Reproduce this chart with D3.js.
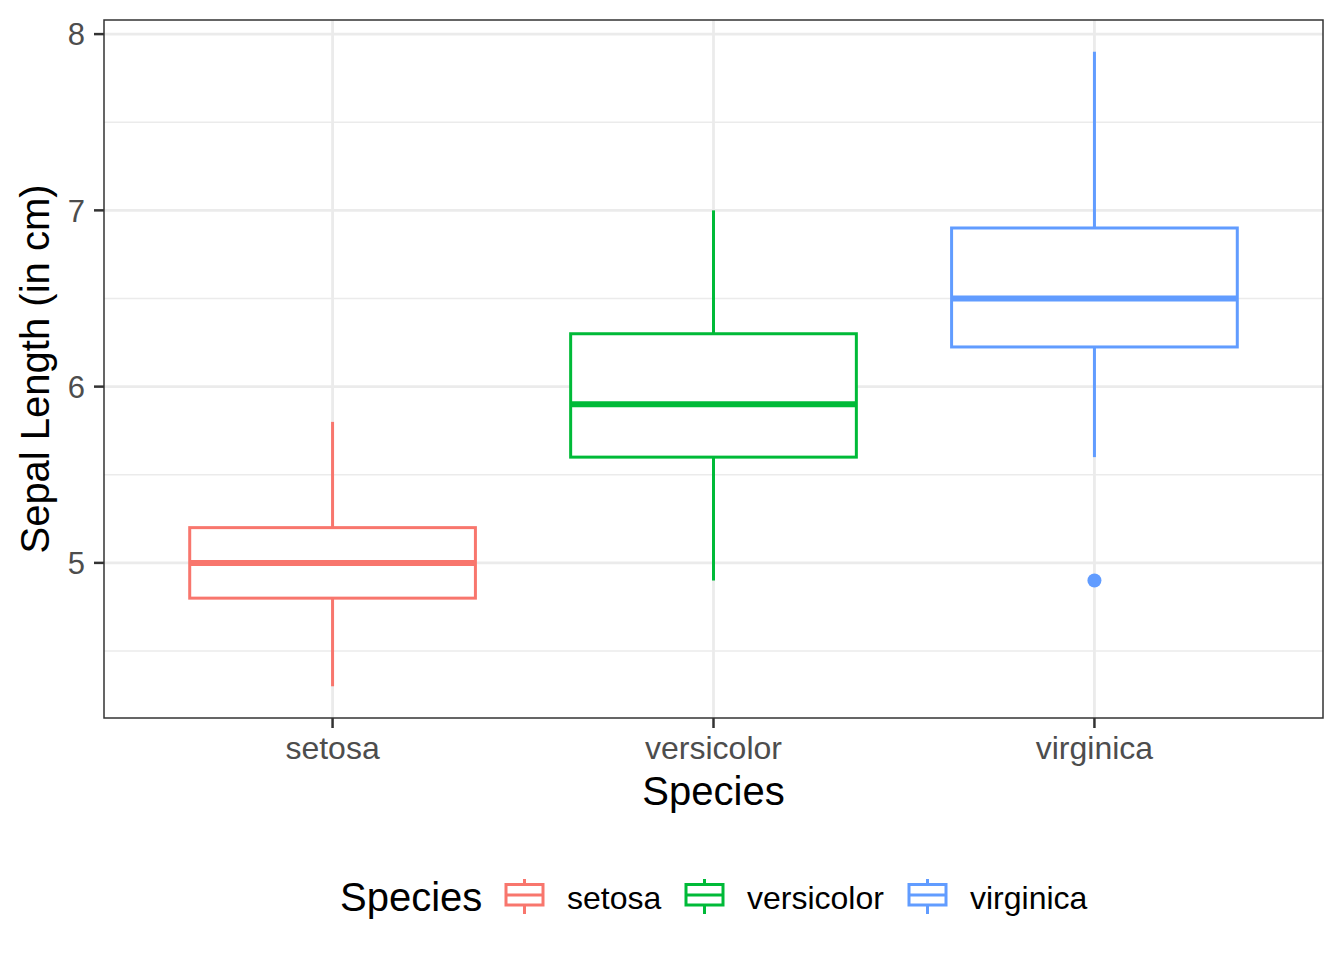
<!DOCTYPE html>
<html><head><meta charset="utf-8">
<script src="https://cdn.jsdelivr.net/npm/d3@7"></script>
<style>body{margin:0;background:#fff}svg{display:block}text{font-family:"Liberation Sans",Arial,sans-serif}</style>
</head><body><svg id="c" width="1344" height="960"></svg>
<script>
const species = ["setosa","versicolor","virginica"];
const colors = ["#F8766D","#00BA38","#619CFF"];
const whiskerLow = [4.3, 4.9, 5.6];
const q1 = [4.8, 5.6, 6.225];
const median = [5.0, 5.9, 6.5];
const q3 = [5.2, 6.3, 6.9];
const whiskerHigh = [5.8, 7.0, 7.9];
const outliers = [[], [], [4.9]];
const yTicks = [5, 6, 7, 8];
const yMinor = [4.5, 5.5, 6.5, 7.5];

const svg = d3.select("#c");
const L = 104, R = 1323, T = 20, B = 718;
const y = d3.scaleLinear().domain([4.12, 8.08]).range([B, T]);
const x = d3.scaleLinear().domain([0.4, 3.6]).range([L, R]);
const bw = 0.75;

const g = svg.append("g");
g.selectAll(".minor").data(yMinor).enter().append("line")
  .attr("x1", L).attr("x2", R).attr("y1", d => y(d)).attr("y2", d => y(d))
  .attr("stroke", "#EBEBEB").attr("stroke-width", 1.3);
g.selectAll(".major").data(yTicks).enter().append("line")
  .attr("x1", L).attr("x2", R).attr("y1", d => y(d)).attr("y2", d => y(d))
  .attr("stroke", "#EBEBEB").attr("stroke-width", 2.8);
g.selectAll(".vmaj").data(species).enter().append("line")
  .attr("x1", (d,i) => x(i+1)).attr("x2", (d,i) => x(i+1)).attr("y1", T).attr("y2", B)
  .attr("stroke", "#EBEBEB").attr("stroke-width", 2.8);

species.forEach((s, i) => {
  const c = colors[i], cx = x(i+1);
  const x0 = x(i+1-bw/2), x1 = x(i+1+bw/2);
  g.append("line").attr("x1", cx).attr("x2", cx).attr("y1", y(q3[i])).attr("y2", y(whiskerHigh[i])).attr("stroke", c).attr("stroke-width", 3);
  g.append("line").attr("x1", cx).attr("x2", cx).attr("y1", y(q1[i])).attr("y2", y(whiskerLow[i])).attr("stroke", c).attr("stroke-width", 3);
  g.append("rect").attr("x", x0).attr("y", y(q3[i])).attr("width", x1-x0).attr("height", y(q1[i])-y(q3[i]))
    .attr("fill", "#fff").attr("stroke", c).attr("stroke-width", 3);
  g.append("line").attr("x1", x0).attr("x2", x1).attr("y1", y(median[i])).attr("y2", y(median[i])).attr("stroke", c).attr("stroke-width", 6);
  outliers[i].forEach(o => g.append("circle").attr("cx", cx).attr("cy", y(o)).attr("r", 7).attr("fill", c));
});

g.append("rect").attr("x", L).attr("y", T).attr("width", R-L).attr("height", B-T)
  .attr("fill", "none").attr("stroke", "#333333").attr("stroke-width", 1.5);

// y axis
yTicks.forEach(t => {
  g.append("line").attr("x1", L-10).attr("x2", L).attr("y1", y(t)).attr("y2", y(t)).attr("stroke", "#333").attr("stroke-width", 2.5);
  g.append("text").attr("x", L-19).attr("y", y(t)).attr("dy", "0.36em").attr("text-anchor", "end")
    .attr("font-size", 31).attr("fill", "#4D4D4D").text(t);
});
species.forEach((s, i) => {
  g.append("line").attr("x1", x(i+1)).attr("x2", x(i+1)).attr("y1", B).attr("y2", B+10).attr("stroke", "#333").attr("stroke-width", 2.5);
  g.append("text").attr("x", x(i+1)).attr("y", 759).attr("text-anchor", "middle")
    .attr("font-size", 32).attr("fill", "#4D4D4D").text(s);
});
g.append("text").attr("x", (L+R)/2).attr("y", 805).attr("text-anchor", "middle").attr("font-size", 40).attr("fill", "#000").text("Species");
g.append("text").attr("transform", `translate(49,${(T+B)/2}) rotate(-90)`).attr("text-anchor", "middle")
  .attr("font-size", 40).attr("fill", "#000").text("Sepal Length (in cm)");

// legend
const lg = svg.append("g");
lg.append("text").attr("x", 340).attr("y", 911).attr("font-size", 40).attr("fill", "#000").text("Species");
const keyX = [506, 686, 909];
const labX = [567, 747, 970];
species.forEach((s, i) => {
  const c = colors[i], kx = keyX[i];
  lg.append("line").attr("x1", kx+18.5).attr("x2", kx+18.5).attr("y1", 879).attr("y2", 914).attr("stroke", c).attr("stroke-width", 3);
  lg.append("rect").attr("x", kx).attr("y", 884.5).attr("width", 37).attr("height", 20.5).attr("fill", "#fff").attr("stroke", c).attr("stroke-width", 3);
  lg.append("line").attr("x1", kx).attr("x2", kx+37).attr("y1", 895).attr("y2", 895).attr("stroke", c).attr("stroke-width", 3);
  lg.append("text").attr("x", labX[i]).attr("y", 909).attr("font-size", 32).attr("fill", "#000").text(s);
});
</script></body></html>
